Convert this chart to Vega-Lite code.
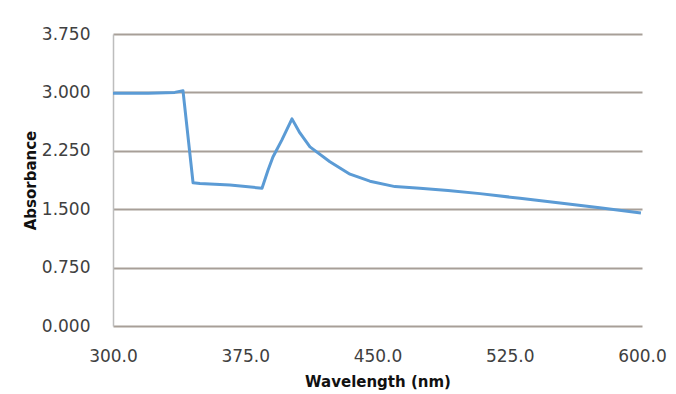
{
  "$schema": "https://vega.github.io/schema/vega-lite/v6.json",
  "autosize": "none",
  "width": 529,
  "height": 292,
  "padding": {"left": 113, "top": 34, "right": 34, "bottom": 68},
  "background": "white",
  "config": {"view": {"stroke": null}},
  "data": {"values": [
    {"wavelength": 300.0, "absorbance": 2.99},
    {"wavelength": 320.0, "absorbance": 2.99},
    {"wavelength": 335.0, "absorbance": 3.0},
    {"wavelength": 339.7, "absorbance": 3.02},
    {"wavelength": 345.4, "absorbance": 1.84},
    {"wavelength": 349.3, "absorbance": 1.83},
    {"wavelength": 366.3, "absorbance": 1.81},
    {"wavelength": 384.5, "absorbance": 1.77},
    {"wavelength": 387.9, "absorbance": 2.0},
    {"wavelength": 390.7, "absorbance": 2.17},
    {"wavelength": 395.8, "absorbance": 2.39},
    {"wavelength": 401.5, "absorbance": 2.66},
    {"wavelength": 406.0, "absorbance": 2.48},
    {"wavelength": 411.7, "absorbance": 2.3},
    {"wavelength": 423.0, "absorbance": 2.11},
    {"wavelength": 434.4, "absorbance": 1.95},
    {"wavelength": 445.7, "absorbance": 1.86},
    {"wavelength": 459.9, "absorbance": 1.79},
    {"wavelength": 474.0, "absorbance": 1.77},
    {"wavelength": 490.0, "absorbance": 1.74},
    {"wavelength": 508.1, "absorbance": 1.7},
    {"wavelength": 530.8, "absorbance": 1.64},
    {"wavelength": 553.5, "absorbance": 1.58},
    {"wavelength": 576.0, "absorbance": 1.52},
    {"wavelength": 599.4, "absorbance": 1.45}
  ]},
  "mark": {"type": "line", "color": "#5b9bd5", "strokeWidth": 3, "strokeJoin": "round"},
  "encoding": {
    "x": {
      "field": "wavelength", "type": "quantitative",
      "scale": {"domain": [300, 600], "nice": false, "zero": false},
      "axis": {
        "values": [300, 375, 450, 525, 600], "format": ".1f", "labelFlush": false, "labelOverlap": false,
        "title": "Wavelength (nm)", "titleFont": "DejaVu Sans", "titleFontSize": 15, "titleFontWeight": "bold", "titleColor": "#111111",
        "titleY": 55, "titleBaseline": "middle",
        "labelFont": "DejaVu Sans", "labelFontSize": 17, "labelColor": "#404040", "labelPadding": 22,
        "ticks": false, "domain": false, "grid": false
      }
    },
    "y": {
      "field": "absorbance", "type": "quantitative",
      "scale": {"domain": [0, 3.75], "nice": false},
      "axis": {
        "values": [0, 0.75, 1.5, 2.25, 3.0, 3.75], "format": ".3f", "labelFlush": false, "labelOverlap": false,
        "title": "Absorbance", "titleFont": "DejaVu Sans", "titleFontSize": 15, "titleFontWeight": "bold", "titleColor": "#111111",
        "titleX": -83, "titleY": 146, "titleAngle": -90, "titleAlign": "center", "titleBaseline": "middle",
        "labelFont": "DejaVu Sans", "labelFontSize": 17, "labelColor": "#404040", "labelPadding": 23,
        "ticks": false, "domain": true, "domainColor": "#bdbdbd", "domainWidth": 1.5,
        "grid": true, "gridColor": "#a79f98", "gridWidth": 2
      }
    }
  }
}
